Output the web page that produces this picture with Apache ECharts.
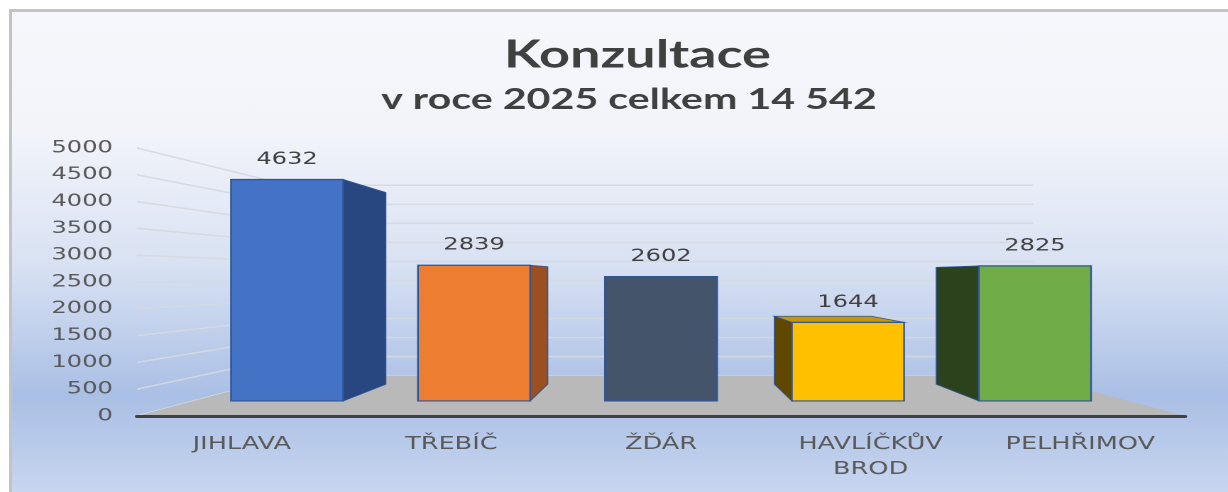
<!DOCTYPE html>
<html>
<head>
<meta charset="utf-8">
<title>Konzultace</title>
<script src="https://cdn.jsdelivr.net/npm/echarts@6/dist/echarts.min.js"></script>
<style>
  html, body { margin: 0; padding: 0; width: 1228px; height: 492px; overflow: hidden; background: #fff; }
  #frame {
    position: absolute; left: 9px; top: 9px; width: 1219px; height: 483px; box-sizing: border-box;
    border-left: 3px solid #c3c3c3; border-top: 3px solid #c3c3c3;
    background: linear-gradient(to bottom, #f6f7fb 0%, #f2f4fa 25%, #d9e2f3 52%, #aabfe5 80%, #c8d6ef 100%);
  }
  /* the original is stretched sideways, so the canvas is drawn narrow and scaled */
  #chart { position: absolute; left: 0; top: 0; width: 865px; height: 492px; transform-origin: 0 0; transform: scaleX(1.4197); }
</style>
</head>
<body>
<div id="frame"></div>
<div id="chart"></div>
<script>
var categories = ['JIHLAVA', 'TŘEBÍČ', 'ŽĎÁR', 'HAVLÍČKŮV\nBROD', 'PELHŘIMOV'];
var values = [4632, 2839, 2602, 1644, 2825];
var yTicks = [0, 500, 1000, 1500, 2000, 2500, 3000, 3500, 4000, 4500, 5000];
var titleText = 'Konzultace';
var subtitleText = 'v roce 2025 celkem 14 542';

var frontColors = ['#4472c4', '#ed7d31', '#44546a', '#ffc000', '#70ad47'];
var sideColors = ['#284780', '#9a5020', '#333f50', '#5f4700', '#2b421d'];
var topColors = ['#3864b0', '#d56f2a', '#3c4b60', '#c89600', '#5e9a3a'];

// perspective: points move toward a vanishing point as they go back
var WALL_DEPTH = 0.29;
var BAR_FRONT = 0.108;
var BAR_DEPTH = 0.134;

function persp(p, k, cs) {
  var vx = cs.x + cs.width / 2;
  var vy = cs.y + cs.height * 0.48;
  return [p[0] + k * (vx - p[0]), p[1] + k * (vy - p[1])];
}

var myChart = echarts.init(document.getElementById('chart'), null, { devicePixelRatio: 2 });

var option = {
  animation: false,
  title: [
    {
      text: titleText, left: 444, top: 31, textAlign: 'center',
      textStyle: { fontFamily: 'Lato', fontWeight: 'bold', fontSize: 38, color: '#404040' }
    },
    {
      text: subtitleText, left: 438, top: 80, textAlign: 'center',
      textStyle: { fontFamily: 'Lato', fontWeight: 'bold', fontSize: 29, color: '#404040' }
    }
  ],
  grid: { left: 96.5, right: 30.3, top: 148, bottom: 76 },
  xAxis: {
    type: 'category',
    data: categories,
    z: 10,
    axisTick: { show: false },
    axisLine: { show: true, lineStyle: { color: '#404040', width: 3 } },
    axisLabel: {
      interval: 0, margin: 16, lineHeight: 25,
      fontFamily: 'DejaVu Sans', fontSize: 18, color: '#595959'
    }
  },
  yAxis: {
    type: 'value',
    min: 0, max: 5000, interval: 500,
    axisLine: { show: false },
    axisTick: { show: false },
    splitLine: { show: false },
    axisLabel: {
      margin: 17, fontFamily: 'DejaVu Sans', fontSize: 17, color: '#595959',
      formatter: function (v) { return String(v); }
    }
  },
  series: [
    {
      // gridlines on the side and back walls
      type: 'custom',
      z: 1,
      silent: true,
      data: yTicks.map(function (v) { return [0, v]; }),
      renderItem: function (params, api) {
        var cs = params.coordSys;
        var y = api.coord([0, api.value(1)])[1];
        var a = [cs.x, y];
        var b = persp(a, WALL_DEPTH, cs);
        var c = persp([cs.x + cs.width, y], WALL_DEPTH, cs);
        return {
          type: 'polyline',
          shape: { points: [a, b, c] },
          style: { stroke: 'rgba(214,216,222,0.9)', lineWidth: 1.5, fill: null }
        };
      }
    },
    {
      // floor
      type: 'custom',
      z: 2,
      silent: true,
      data: [[0, 0]],
      renderItem: function (params, api) {
        var cs = params.coordSys;
        var y = api.coord([0, 0])[1];
        var fl = [cs.x, y];
        var fr = [cs.x + cs.width, y];
        return {
          type: 'polygon',
          shape: { points: [fl, fr, persp(fr, WALL_DEPTH, cs), persp(fl, WALL_DEPTH, cs)] },
          style: { fill: '#b9b9b9' }
        };
      }
    },
    {
      // 3D bars
      type: 'custom',
      z: 3,
      data: values.map(function (v, i) { return [i, v]; }),
      encode: { x: 0, y: 1 },
      renderItem: function (params, api) {
        var cs = params.coordSys;
        var i = api.value(0);
        var v = api.value(1);
        var base = api.coord([i, 0]);
        var top = api.coord([i, v]);
        var half = api.size([1, 0])[0] * 0.3;
        var ftl = persp([base[0] - half, top[1]], BAR_FRONT, cs);
        var ftr = persp([base[0] + half, top[1]], BAR_FRONT, cs);
        var fbr = persp([base[0] + half, base[1]], BAR_FRONT, cs);
        var fbl = persp([base[0] - half, base[1]], BAR_FRONT, cs);
        var btl = persp(ftl, BAR_DEPTH, cs);
        var btr = persp(ftr, BAR_DEPTH, cs);
        var bbr = persp(fbr, BAR_DEPTH, cs);
        var bbl = persp(fbl, BAR_DEPTH, cs);
        var vx = cs.x + cs.width / 2;
        var vy = cs.y + cs.height * 0.48;
        var cx = (ftl[0] + ftr[0]) / 2;
        var children = [];
        if (cx < vx - 3) {
          children.push({ type: 'polygon', shape: { points: [ftr, btr, bbr, fbr] },
            style: { fill: sideColors[i], stroke: '#2f5597', lineWidth: 0.8 } });
        } else if (cx > vx + 3) {
          children.push({ type: 'polygon', shape: { points: [ftl, btl, bbl, fbl] },
            style: { fill: sideColors[i], stroke: '#2f5597', lineWidth: 0.8 } });
        }
        if (ftl[1] > vy + 1) {
          children.push({ type: 'polygon', shape: { points: [ftl, ftr, btr, btl] },
            style: { fill: topColors[i], stroke: '#2f5597', lineWidth: 0.8 } });
        }
        children.push({ type: 'polygon', shape: { points: [ftl, ftr, fbr, fbl] },
          style: { fill: frontColors[i], stroke: '#2f5597', lineWidth: 1.2 } });
        children.push({ type: 'text', style: {
          text: String(v), x: cx, y: ftl[1] - 20, align: 'center', verticalAlign: 'middle',
          fontFamily: 'DejaVu Sans', fontSize: 17, fill: '#404040'
        } });
        return { type: 'group', children: children };
      }
    }
  ]
};

myChart.setOption(option);
window.addEventListener('resize', function () {
  myChart.resize();
});
</script>
</body>
</html>
